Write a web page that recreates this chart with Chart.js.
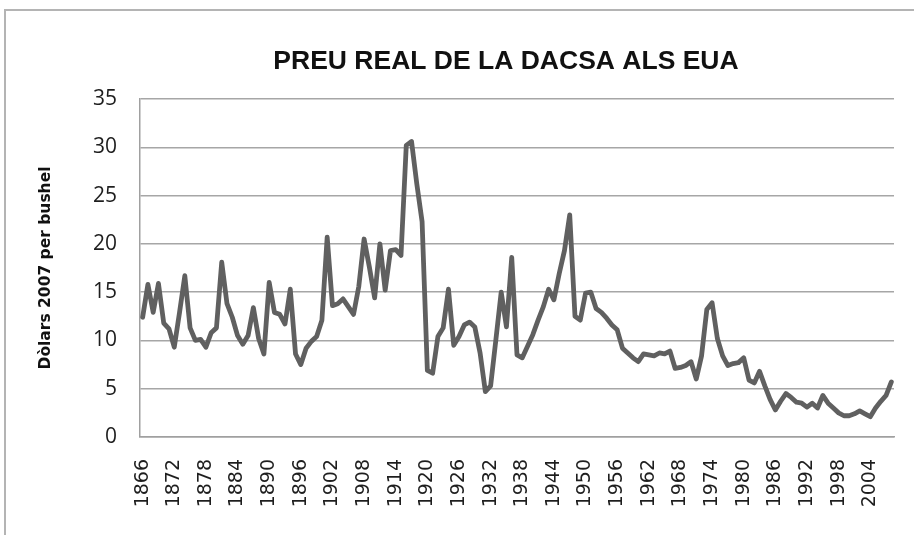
<!DOCTYPE html>
<html>
<head>
<meta charset="utf-8">
<script src="https://cdn.jsdelivr.net/npm/chart.js@4.4.1/dist/chart.umd.min.js"></script>
<style>
  html, body { margin: 0; padding: 0; background: #ffffff; overflow: hidden; }
  #frame { position: absolute; left: 4px; top: 9px; width: 1000px; height: 1000px; border: 2px solid #b4b4b4; box-sizing: border-box; }
  #wrap { position: absolute; left: 0; top: 0; width: 914px; height: 535px; }
</style>
</head>
<body>
<div id="frame"></div>
<div id="wrap"><canvas id="c" width="914" height="535"></canvas></div>
<script>
const chartTitle = 'PREU REAL DE LA DACSA ALS EUA';
const yAxisTitle = 'Dòlars 2007 per bushel';
const firstYear = 1866;
const lastYear = 2008;
const labelStep = 6;
const yTicks = [0, 5, 10, 15, 20, 25, 30, 35];

const years = [];
for (let y = firstYear; y <= lastYear; y++) years.push(String(y));

const price = [
  12.4, 15.8, 12.9, 15.9, 11.8, 11.2, 9.3, 12.9, 16.7, 11.3,   // 1866-1875
  10.0, 10.1, 9.3, 10.8, 11.3, 18.1, 13.8, 12.4, 10.5, 9.6,    // 1876-1885
  10.5, 13.4, 10.2, 8.6, 16.0, 12.9, 12.7, 11.7, 15.3, 8.6,    // 1886-1895
  7.5, 9.2, 9.9, 10.4, 12.1, 20.7, 13.6, 13.8, 14.3, 13.5,     // 1896-1905
  12.7, 15.6, 20.5, 17.6, 14.4, 20.0, 15.2, 19.3, 19.4, 18.8,  // 1906-1915
  30.2, 30.6, 26.2, 22.3, 6.9, 6.6, 10.4, 11.3, 15.3, 9.5,     // 1916-1925
  10.4, 11.6, 11.9, 11.4, 8.7, 4.7, 5.3, 10.1, 15.0, 11.4,     // 1926-1935
  18.6, 8.5, 8.2, 9.4, 10.6, 12.1, 13.5, 15.3, 14.2, 16.9,     // 1936-1945
  19.3, 23.0, 12.5, 12.1, 14.9, 15.0, 13.3, 12.9, 12.3, 11.6,  // 1946-1955
  11.1, 9.2, 8.7, 8.2, 7.8, 8.6, 8.5, 8.4, 8.7, 8.6,           // 1956-1965
  8.9, 7.1, 7.2, 7.4, 7.8, 6.0, 8.4, 13.2, 13.9, 10.2,         // 1966-1975
  8.4, 7.4, 7.6, 7.7, 8.2, 5.9, 5.6, 6.8, 5.3, 3.9,            // 1976-1985
  2.8, 3.7, 4.5, 4.1, 3.6, 3.5, 3.1, 3.5, 3.0, 4.3,            // 1986-1995
  3.5, 3.0, 2.5, 2.2, 2.2, 2.4, 2.7, 2.4, 2.1, 3.0,            // 1996-2005
  3.7, 4.3, 5.7                                                // 2006-2008
];

const titlePlugin = {
  id: 'customTitle',
  afterDraw(chart) {
    const { ctx, chartArea } = chart;
    ctx.save();
    ctx.fillStyle = '#111111';
    ctx.font = 'bold 26.5px "Liberation Sans"';
    ctx.textAlign = 'center';
    ctx.textBaseline = 'middle';
    ctx.fillText(chartTitle, (chartArea.left + chartArea.right) / 2 - 11, chartArea.top - 37);
    ctx.restore();
  }
};

new Chart(document.getElementById('c'), {
  type: 'line',
  data: {
    labels: years,
    datasets: [{
      data: price,
      borderColor: '#606060',
      borderWidth: 4.8,
      pointRadius: 0,
      pointHoverRadius: 0,
      tension: 0,
      fill: false,
      borderJoinStyle: 'round',
      borderCapStyle: 'round'
    }]
  },
  plugins: [titlePlugin],
  options: {
    responsive: false,
    animation: false,
    events: [],
    layout: { padding: { left: 0, right: 20, top: 99, bottom: 0 } },
    plugins: {
      legend: { display: false },
      tooltip: { enabled: false },
      title: { display: false }
    },
    scales: {
      x: {
        type: 'category',
        offset: true,
        grid: { display: false, drawTicks: false },
        border: { display: true, color: '#a0a0a0', width: 1.5 },
        ticks: {
          autoSkip: false,
          maxRotation: 90,
          minRotation: 90,
          padding: 22,
          color: '#1e1e1e',
          font: { family: 'DejaVu Sans', size: 19 },
          callback: function (val, idx) {
            const yr = Number(this.getLabelForValue(val));
            return ((yr - firstYear) % labelStep === 0) ? String(yr) : '';
          }
        },
        afterFit: function (scale) {
          scale.height = 98;
          scale.paddingLeft = 0;
          scale.paddingRight = 0;
        }
      },
      y: {
        min: 0,
        max: 35,
        afterBuildTicks: function (scale) { scale.ticks = yTicks.map(v => ({ value: v })); },
        grid: { color: '#a6a6a6', lineWidth: 1.5, drawTicks: false },
        border: { display: true, color: '#a0a0a0', width: 1.5 },
        ticks: {
          padding: 23,
          color: '#1e1e1e',
          font: { family: 'Open Sans', size: 21 }
        },
        title: {
          display: true,
          text: yAxisTitle,
          color: '#111111',
          font: { family: 'DejaVu Sans', size: 15.5, weight: 'bold', lineHeight: 1.2 },
          padding: { top: 37, bottom: 0 }
        },
        afterFit: function (scale) {
          scale.width = 140;
          scale.paddingTop = 0;
          scale.paddingBottom = 0;
        }
      }
    }
  }
});
</script>
</body>
</html>
